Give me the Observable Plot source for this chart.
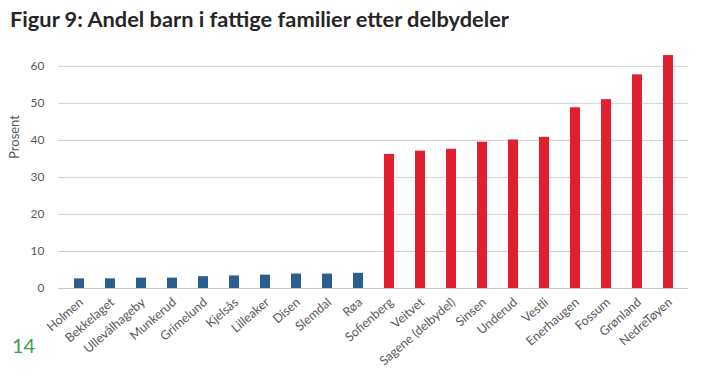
<!DOCTYPE html>
<html>
<head>
<meta charset="utf-8">
<script src="https://cdn.jsdelivr.net/npm/d3@7"></script>
<script src="https://cdn.jsdelivr.net/npm/@observablehq/plot@0.6"></script>
<style>
  html, body { margin: 0; padding: 0; background: #fff; }
  #wrap { position: relative; width: 706px; height: 392px; overflow: hidden; font-family: Lato, "Open Sans", sans-serif; }
  #title { position: absolute; left: 10px; top: 5px; font-size: 21.8px; font-weight: bold; color: #262626; white-space: nowrap; }
  #page { position: absolute; left: 12px; top: 333px; font-size: 20px; color: #3f9c4c; }
  #chart { position: absolute; left: 0; top: 40px; }
</style>
</head>
<body>
<div id="wrap">
  <div id="title">Figur 9: Andel barn i fattige familier etter delbydeler</div>
  <div id="chart"></div>
  <div id="page">14</div>
</div>
<script>
const categories = ["Holmen","Bekkelaget","Ullevålhageby","Munkerud","Grimelund","Kjelsås","Lilleaker","Disen","Slemdal","Røa",
  "Sofienberg","Veitvet","Sagene (delbydel)","Sinsen","Underud","Vestli","Enerhaugen","Fossum","Grønland","NedreTøyen"];
const values = [2.6,2.6,2.8,2.8,3.2,3.4,3.6,3.9,3.9,4.1,
  36.2,37.1,37.6,39.5,40.1,40.8,48.8,51.0,57.7,62.9];
const groups = ["low","low","low","low","low","low","low","low","low","low",
  "high","high","high","high","high","high","high","high","high","high"];
const yTicks = [0,10,20,30,40,50,60];

const data = categories.map((c, i) => ({name: c, value: values[i], group: groups[i]}));

const chart = Plot.plot({
  width: 706,
  height: 352,
  marginLeft: 58,
  marginRight: 18,
  marginTop: 11,
  marginBottom: 104,
  style: {fontFamily: "Lato, 'Open Sans', sans-serif", fontSize: "12px", color: "#595959"},
  x: {domain: categories, paddingInner: 0.68, paddingOuter: 0.34, label: null},
  y: {domain: [0, 64], label: null},
  color: {domain: ["low","high"], range: ["#2c5d8f","#e01f2f"]},
  marks: [
    Plot.gridY(yTicks, {stroke: "#d0d0d0", strokeOpacity: 1}),
    Plot.axisY({ticks: yTicks, tickSize: 0, tickPadding: 14, fontSize: 12, label: null}),
    Plot.text(["Prosent"], {y: [35], frameAnchor: "left", dx: -44, rotate: -90, fontSize: 13, fill: "#595959"}),
    Plot.barY(data, {x: "name", y: "value", fill: "group"}),
    Plot.ruleY([0], {stroke: "#c8c8c8"}),
    Plot.axisX({tickSize: 0, tickRotate: -41, tickPadding: 12, fontSize: 12.5, label: null, dx: 2})
  ]
});
document.getElementById("chart").appendChild(chart);
</script>
</body>
</html>
